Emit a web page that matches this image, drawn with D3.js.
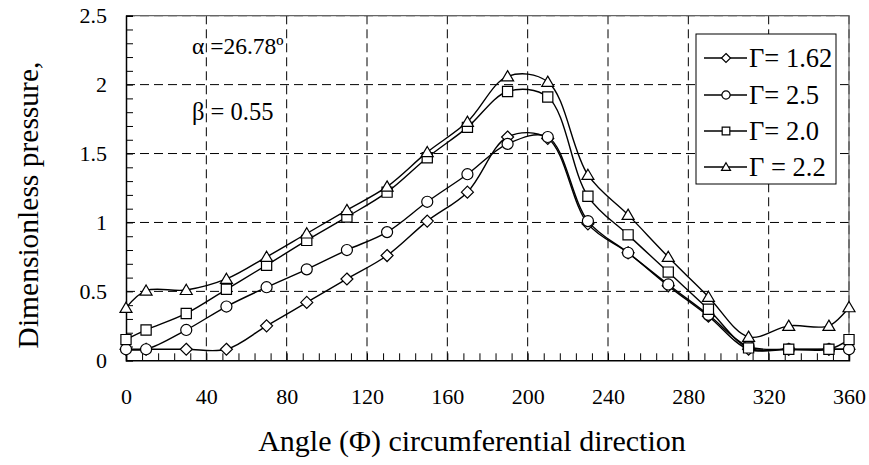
<!DOCTYPE html>
<html><head><meta charset="utf-8">
<script src="https://cdn.jsdelivr.net/npm/d3@7"></script>
<style>
html,body{margin:0;padding:0;background:#fff;}
svg text{font-family:"Liberation Serif","Times New Roman",serif !important;fill:#000;}
</style></head>
<body><svg id="c" width="869" height="465"></svg>
<script>
const angles = [0,10,30,50,70,90,110,130,150,170,190,210,230,250,270,290,310,330,350,360];
const g162 = [0.08,0.08,0.08,0.08,0.25,0.42,0.59,0.76,1.01,1.22,1.62,1.61,0.99,0.78,0.54,0.32,0.08,0.08,0.08,0.08];
const g25  = [0.08,0.08,0.22,0.39,0.53,0.66,0.80,0.93,1.15,1.35,1.57,1.62,1.01,0.78,0.55,0.33,0.10,0.08,0.08,0.08];
const g20  = [0.15,0.22,0.34,0.515,0.69,0.87,1.04,1.22,1.47,1.69,1.95,1.91,1.19,0.91,0.64,0.37,0.09,0.08,0.08,0.15];
const g22  = [0.38,0.505,0.51,0.59,0.75,0.92,1.09,1.26,1.51,1.73,2.06,2.02,1.345,1.055,0.75,0.46,0.17,0.25,0.25,0.385];
const seriesNames = ["\u0393= 1.62","\u0393= 2.5","\u0393= 2.0","\u0393 = 2.2"];
const seriesMarkers = ["diamond","circle","square","triangle"];
const xTicks = [0,40,80,120,160,200,240,280,320,360];
const yTicks = [0,0.5,1,1.5,2,2.5];
const yTickLabels = ["0","0.5","1","1.5","2","2.5"];
const xTitle = "Angle (\u03A6) circumferential direction";
const yTitle = "Dimensionless pressure,";

const FONT = '"Liberation Serif","Times New Roman",serif';
const svg = d3.select("#c");
const L = 126, R = 849, T = 15.7, B = 360.3;
const x = d3.scaleLinear().domain([0,360]).range([L,R]);
const y = d3.scaleLinear().domain([0,2.5]).range([B,T]);

// gridlines
const grid = svg.append("g").attr("stroke","#000").attr("stroke-width",1).attr("stroke-dasharray","9,5");
xTicks.filter(d=>d>0).forEach(d=>grid.append("line").attr("x1",x(d)).attr("x2",x(d)).attr("y1",B).attr("y2",T));
yTicks.filter(d=>d>0).forEach(d=>grid.append("line").attr("x1",L).attr("x2",R).attr("y1",y(d)).attr("y2",y(d)));

// plot border top/right
svg.append("path").attr("d",`M${L},${T}H${R}V${B}`).attr("fill","none").attr("stroke","#666").attr("stroke-width",1.2);

// axes
const xMinor = d3.axisBottom(x).tickValues(d3.range(0,361,8)).tickSize(-7).tickFormat("");
svg.append("g").attr("transform",`translate(0,${B})`).call(xMinor).call(g=>{g.select(".domain").attr("stroke","#000").attr("stroke-width",1.5);g.selectAll("line").attr("stroke","#000");});
const xAxis = d3.axisBottom(x).tickValues(xTicks).tickSize(0).tickPadding(28).tickFormat(d3.format("d"));
svg.append("g").attr("transform",`translate(0,${B})`).call(xAxis).call(g=>{g.attr("font-family",null);g.select(".domain").remove();g.selectAll("text").attr("font-size",22).style("font-family",FONT);});

const yMinor = d3.axisLeft(y).tickValues(d3.range(0,2.51,0.1)).tickSize(-7).tickFormat("");
svg.append("g").attr("transform",`translate(${L},0)`).call(yMinor).call(g=>{g.select(".domain").attr("stroke","#000").attr("stroke-width",1.5);g.selectAll("line").attr("stroke","#000");});
const yAxis = d3.axisLeft(y).tickValues(yTicks).tickSize(0).tickPadding(19).tickFormat((d,i)=>yTickLabels[i]);
svg.append("g").attr("transform",`translate(${L},0)`).call(yAxis).call(g=>{g.attr("font-family",null);g.select(".domain").remove();g.selectAll("text").attr("font-size",22).style("font-family",FONT);});

// marker paths
function marker(type, s){
  if(type==="diamond") return `M0,${-s}L${s},0L0,${s}L${-s},0Z`;
  if(type==="circle"){const p=d3.path();p.arc(0,0,s*0.92,0,2*Math.PI);p.closePath();return p.toString();}
  if(type==="square"){const h=s*0.85;return `M${-h},${-h}H${h}V${h}H${-h}Z`;}
  if(type==="triangle") return `M0,${-s*0.95}L${s},${s*0.75}L${-s},${s*0.75}Z`;
}

const allSeries = [g162,g25,g20,g22];
const line = d3.line().x((d,i)=>x(angles[i])).y(d=>y(d)).curve(d3.curveCatmullRom.alpha(0.5));
allSeries.forEach((vals,k)=>{
  const g = svg.append("g");
  g.append("path").attr("d",line(vals)).attr("fill","none").attr("stroke","#000").attr("stroke-width",1.4);
  g.selectAll("path.m").data(vals).enter().append("path").attr("class","m")
    .attr("transform",(d,i)=>`translate(${x(angles[i])},${y(d)})`)
    .attr("d",marker(seriesMarkers[k],6)).attr("fill","#fff").attr("stroke","#000").attr("stroke-width",1.2);
});

// legend
const lg = svg.append("g");
lg.append("rect").attr("x",696).attr("y",34).attr("width",140).attr("height",150).attr("fill","#fff").attr("stroke","#000").attr("stroke-width",1);
const legY = [58,95,131,167];
seriesNames.forEach((nm,k)=>{
  lg.append("line").attr("x1",704).attr("x2",747).attr("y1",legY[k]).attr("y2",legY[k]).attr("stroke","#000").attr("stroke-width",1.4);
  lg.append("path").attr("transform",`translate(726,${legY[k]})`).attr("d",marker(seriesMarkers[k],4.5)).attr("fill","#fff").attr("stroke","#000").attr("stroke-width",1.2);
  lg.append("text").attr("x",749).attr("y",legY[k]).attr("dy","0.35em").attr("font-size",26.5).style("font-family",FONT).text(nm);
});

// annotations
svg.append("text").attr("x",192).attr("y",54).attr("font-size",23.5).style("font-family",FONT).text("\u03B1 =26.78\u00BA");
svg.append("text").attr("x",192).attr("y",120).attr("font-size",24.5).style("font-family",FONT).text("\u03B2 = 0.55");

// titles
svg.append("text").attr("x",472).attr("y",451).attr("text-anchor","middle").attr("font-size",30).style("font-family",FONT).text(xTitle);
svg.append("text").attr("transform","translate(38,205) rotate(-90)").attr("text-anchor","middle").attr("font-size",29.5).style("font-family",FONT).text(yTitle);
</script></body></html>
